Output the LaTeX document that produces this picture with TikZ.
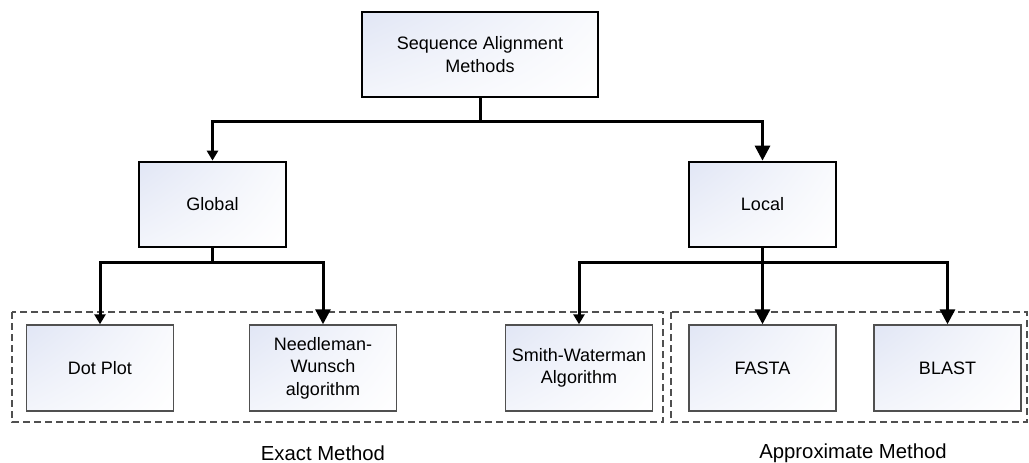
\documentclass[tikz,border=0pt]{standalone}
\usepackage{fontspec}
\setmainfont{Liberation Sans}
\usetikzlibrary{arrows.meta,shadings}

\definecolor{tintA}{RGB}{225,230,245}
\definecolor{tintB}{RGB}{249,250,253}
\definecolor{tintC}{RGB}{243,245,251}
\definecolor{edgegray}{RGB}{80,80,80}

\tikzset{
  boxfill/.style={shade, upper left=tintA, upper right=tintB,
                  lower left=tintC, lower right=white},
  upperbox/.style={boxfill, draw=black, line width=2.7pt, inner sep=0pt,
                   minimum width=147pt, minimum height=85pt, align=center,
                   font=\fontsize{18}{22.5}\selectfont},
  lowerbox/.style={boxfill, draw=edgegray, line width=1.4pt, inner sep=0pt,
                   minimum width=147pt, minimum height=86pt, align=center,
                   font=\fontsize{18}{22.5}\selectfont},
  groupbox/.style={draw=edgegray, line width=1.3pt, dash pattern=on 7pt off 4pt},
  link/.style={line width=3pt, line join=miter},
  smalltip/.style={link, -{Triangle[length=10pt, width=11pt]}},
  bigtip/.style={link, -{Triangle[length=15pt, width=15pt]}},
  grouplabel/.style={font=\fontsize{20.3}{22}\selectfont, inner sep=0pt}
}

\begin{document}
\begin{tikzpicture}[x=1pt, y=-1pt]
  \useasboundingbox (0,0) rectangle (1029,463);

  % dashed groups
  \draw[groupbox] (12,312) rectangle (663,422);
  \draw[groupbox] (671,312) rectangle (1027,422);

  % tree of boxes
  \node[upperbox, minimum width=236pt] (root) at (480,54.5) {Sequence Alignment\\Methods};
  \node[upperbox] (global) at (212.5,204.5) {Global};
  \node[upperbox] (local) at (762.5,204.5) {Local};

  \node[lowerbox] (dot) at (100,368) {Dot Plot};
  \node[lowerbox] (nw) at (323,368) {Needleman-\\Wunsch\\algorithm};
  \node[lowerbox] (sw) at (579,368) {Smith-Waterman\\Algorithm};
  \node[lowerbox] (fasta) at (762.5,368) {FASTA};
  \node[lowerbox] (blast) at (947.5,368) {BLAST};

  % junction points of the branches
  \coordinate (jr) at (root.south |- 0,121);
  \coordinate (jg) at (global.south |- 0,262);
  \coordinate (jl) at (local.south |- 0,262);

  \draw[link] (root.south) -- (jr);
  \draw[smalltip] (jr) -| (global.north);
  \draw[bigtip] (jr) -| (local.north);

  \draw[link] (global.south) -- (jg);
  \draw[smalltip] (jg) -| (dot.north);
  \draw[bigtip] (jg) -| (nw.north);

  \draw[smalltip] (jl) -| (sw.north);
  \draw[bigtip] (local.south) -- (fasta.north);
  \draw[bigtip] (jl) -| (blast.north);

  % group captions
  \node[grouplabel] (exact) at (323,453) {Exact Method};
  \node[grouplabel] (approx) at (853,453) {Approximate Method};
\end{tikzpicture}
\end{document}
